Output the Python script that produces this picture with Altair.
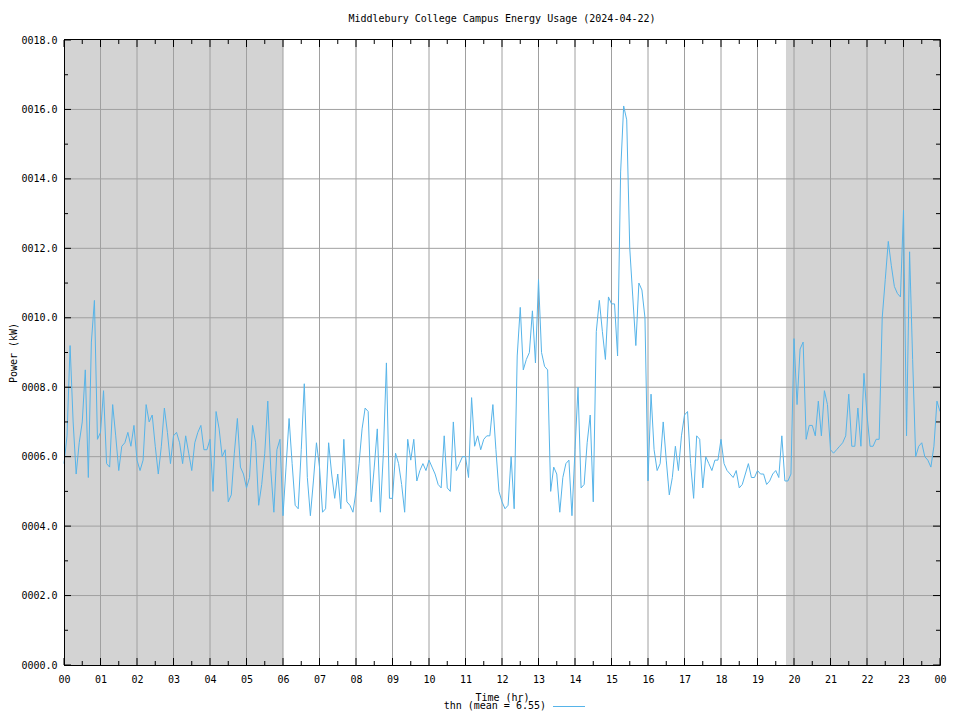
import altair as alt
import pandas as pd

TITLE = "Middlebury College Campus Energy Usage (2024-04-22)"
X_TITLE = "Time (hr)"
Y_TITLE = "Power (kW)"
SERIES_LABEL = "thn (mean = 6.55)"
BLUE = "#56b4e9"
FONT = "DejaVu Sans Mono"

# 5-minute readings (kW), one row per hour 00..23, then the 24:00 reading
power_kw = [
    5.8, 6.6, 9.2, 7.0, 5.5, 6.4, 7.0, 8.5, 5.4, 9.3, 10.5, 6.5,      # 00
    6.7, 7.9, 5.8, 5.7, 7.5, 6.6, 5.6, 6.3, 6.4, 6.7, 6.3, 6.9,       # 01
    5.9, 5.6, 5.9, 7.5, 7.0, 7.2, 6.3, 5.5, 6.3, 7.4, 6.7, 5.8,       # 02
    6.6, 6.7, 6.4, 5.8, 6.6, 6.1, 5.6, 6.4, 6.7, 6.9, 6.2, 6.2,       # 03
    6.5, 5.0, 7.3, 6.8, 6.0, 6.2, 4.7, 4.9, 6.1, 7.1, 5.7, 5.5,       # 04
    5.1, 5.4, 6.9, 6.4, 4.6, 5.2, 6.1, 7.6, 5.6, 4.4, 6.2, 6.5,       # 05
    4.3, 5.7, 7.1, 5.8, 4.6, 4.5, 6.2, 8.1, 5.4, 4.3, 5.3, 6.4,       # 06
    5.7, 4.4, 4.5, 6.4, 5.5, 4.8, 5.5, 4.5, 6.5, 4.7, 4.6, 4.4,       # 07
    5.0, 5.8, 6.8, 7.4, 7.3, 4.7, 5.7, 6.8, 4.4, 6.1, 8.7, 4.8,       # 08
    4.8, 6.1, 5.8, 5.2, 4.4, 6.5, 5.9, 6.5, 5.3, 5.6, 5.8, 5.6,       # 09
    5.9, 5.7, 5.5, 5.2, 5.1, 6.6, 5.1, 5.0, 7.0, 5.6, 5.8, 6.0,       # 10
    6.0, 5.4, 7.7, 6.3, 6.6, 6.2, 6.5, 6.6, 6.6, 7.5, 6.2, 5.0,       # 11
    4.7, 4.5, 4.6, 6.0, 4.5, 8.9, 10.3, 8.5, 8.8, 9.0, 10.2, 8.7,     # 12
    11.1, 9.0, 8.6, 8.5, 5.0, 5.7, 5.5, 4.4, 5.4, 5.8, 5.9, 4.3,      # 13
    6.2, 8.0, 5.1, 5.2, 6.4, 7.2, 4.7, 9.6, 10.5, 9.6, 8.8, 10.6,     # 14
    10.4, 10.4, 8.9, 14.2, 16.1, 15.7, 12.0, 10.6, 9.2, 11.0, 10.8, 10.0,  # 15
    5.3, 7.8, 6.2, 5.6, 5.8, 7.0, 5.9, 4.9, 5.4, 6.3, 5.6, 6.6,       # 16
    7.2, 7.3, 5.8, 4.8, 6.6, 6.5, 5.1, 6.0, 5.8, 5.6, 5.9, 5.9,       # 17
    6.5, 5.8, 5.6, 5.5, 5.4, 5.6, 5.1, 5.2, 5.5, 5.8, 5.4, 5.4,       # 18
    5.6, 5.5, 5.5, 5.2, 5.3, 5.5, 5.6, 5.4, 6.6, 5.3, 5.3, 5.5,       # 19
    9.4, 7.5, 9.1, 9.3, 6.5, 6.9, 6.9, 6.6, 7.6, 6.6, 7.9, 7.5,       # 20
    6.2, 6.1, 6.2, 6.3, 6.4, 6.6, 7.8, 6.3, 6.3, 7.4, 6.3, 8.4,       # 21
    7.2, 6.3, 6.3, 6.5, 6.5, 10.0, 11.1, 12.2, 11.5, 10.9, 10.7, 10.6,  # 22
    13.1, 6.6, 11.9, 8.8, 6.0, 6.3, 6.4, 6.0, 5.9, 5.7, 6.3, 7.6,     # 23
    7.3,
]
STEP_MIN = 5
time_hr = [i * STEP_MIN / 60 for i in range(len(power_kw))]

night_start = [0.0, 19.78]
night_end = [6.0, 24.0]

hour_ticks = list(range(25))
half_hour_ticks = [h + 0.5 for h in range(24)]
kw_major = [0, 2, 4, 6, 8, 10, 12, 14, 16, 18]
kw_minor = [1, 3, 5, 7, 9, 11, 13, 15, 17]

W, H = 876, 625

xs = alt.Scale(domain=[0, 24], nice=False, zero=False)
ys = alt.Scale(domain=[0, 18], nice=False, zero=True)

x_axis = alt.Axis(
    values=hour_ticks,
    labelExpr="(datum.value % 24 < 10 ? '0' : '') + (datum.value % 24)",
    title=X_TITLE, grid=False, ticks=False, domain=False, labelFlush=False,
    labelPadding=9, titleX=W / 2, titleY=32, titleBaseline="middle",
)
y_axis = alt.Axis(
    values=kw_major, format="06.1f", title=Y_TITLE, labelFlush=False,
    grid=False, ticks=False, domain=False, labelPadding=7,
    titleX=-51, titleY=H / 2, titleBaseline="middle",
)


def X(field):
    return alt.X(field, type="quantitative", scale=xs, axis=x_axis)


def Y(field):
    return alt.Y(field, type="quantitative", scale=ys, axis=y_axis)


df = pd.DataFrame({"t": time_hr, "kw": power_kw})
night_df = pd.DataFrame({"t": night_start, "t2": night_end})
vgrid_df = pd.DataFrame({"t": hour_ticks[1:-1]})
hgrid_df = pd.DataFrame({"kw": kw_major[1:-1]})
hmaj_df = pd.DataFrame({"t": hour_ticks})
hmin_df = pd.DataFrame({"t": half_hour_ticks})
kmaj_df = pd.DataFrame({"kw": kw_major})
kmin_df = pd.DataFrame({"kw": kw_minor})
one = pd.DataFrame({"label": [SERIES_LABEL], "title": [TITLE]})

night = alt.Chart(night_df).mark_rect(color="#d3d3d3").encode(
    x=X("t"), x2="t2", y=alt.value(0), y2=alt.value(H)
)
vgrid = alt.Chart(vgrid_df).mark_rule(color="#a0a0a0", strokeWidth=1).encode(
    x=X("t"), y=alt.value(0), y2=alt.value(H)
)
hgrid = alt.Chart(hgrid_df).mark_rule(color="#a0a0a0", strokeWidth=1).encode(
    y=Y("kw"), x=alt.value(0), x2=alt.value(W)
)
line = alt.Chart(df).mark_line(
    interpolate="linear", color=BLUE, strokeWidth=1
).encode(x=X("t"), y=Y("kw"))

tick_layers = []
for data, length in ((hmaj_df, 7), (hmin_df, 4)):
    tick_layers.append(alt.Chart(data).mark_rule(color="black").encode(
        x=X("t"), y=alt.value(H), y2=alt.value(H - length)))
    tick_layers.append(alt.Chart(data).mark_rule(color="black").encode(
        x=X("t"), y=alt.value(0), y2=alt.value(length)))
for data, length in ((kmaj_df, 7), (kmin_df, 4)):
    tick_layers.append(alt.Chart(data).mark_rule(color="black").encode(
        y=Y("kw"), x=alt.value(0), x2=alt.value(length)))
    tick_layers.append(alt.Chart(data).mark_rule(color="black").encode(
        y=Y("kw"), x=alt.value(W), x2=alt.value(W - length)))

border = [
    alt.Chart(one).mark_rule(color="black").encode(
        x=alt.value(0), x2=alt.value(W + 0.5), y=alt.value(-0.5)),
    alt.Chart(one).mark_rule(color="black").encode(
        x=alt.value(0), x2=alt.value(W + 0.5), y=alt.value(H + 0.5)),
    alt.Chart(one).mark_rule(color="black").encode(
        x=alt.value(0.5), y=alt.value(-0.5), y2=alt.value(H + 0.5)),
    alt.Chart(one).mark_rule(color="black").encode(
        x=alt.value(W + 0.5), y=alt.value(-0.5), y2=alt.value(H + 0.5)),
]

title_text = alt.Chart(one).mark_text(
    align="center", baseline="middle", font=FONT, fontSize=10, color="black"
).encode(x=alt.value(W / 2), y=alt.value(-21), text="title:N")
legend_text = alt.Chart(one).mark_text(
    align="right", baseline="middle", font=FONT, fontSize=10, color="black"
).encode(x=alt.value(482), y=alt.value(666), text="label:N")
legend_line = alt.Chart(one).mark_rule(color=BLUE, strokeWidth=1).encode(
    x=alt.value(489), x2=alt.value(521), y=alt.value(666.5)
)

chart = alt.layer(
    night, vgrid, hgrid, line, *tick_layers, *border,
    title_text, legend_text, legend_line,
).properties(
    width=W, height=H,
    autosize=alt.AutoSizeParams(type="none"),
    padding={"left": 56, "top": 32, "right": 12, "bottom": 47},
).configure_view(stroke=None).configure_axis(
    labelFont=FONT, labelFontSize=10, labelColor="black",
    titleFont=FONT, titleFontSize=10, titleFontWeight="normal", titleColor="black",
)

chart.save("out.html", embed_options={"renderer": "svg", "actions": False})
